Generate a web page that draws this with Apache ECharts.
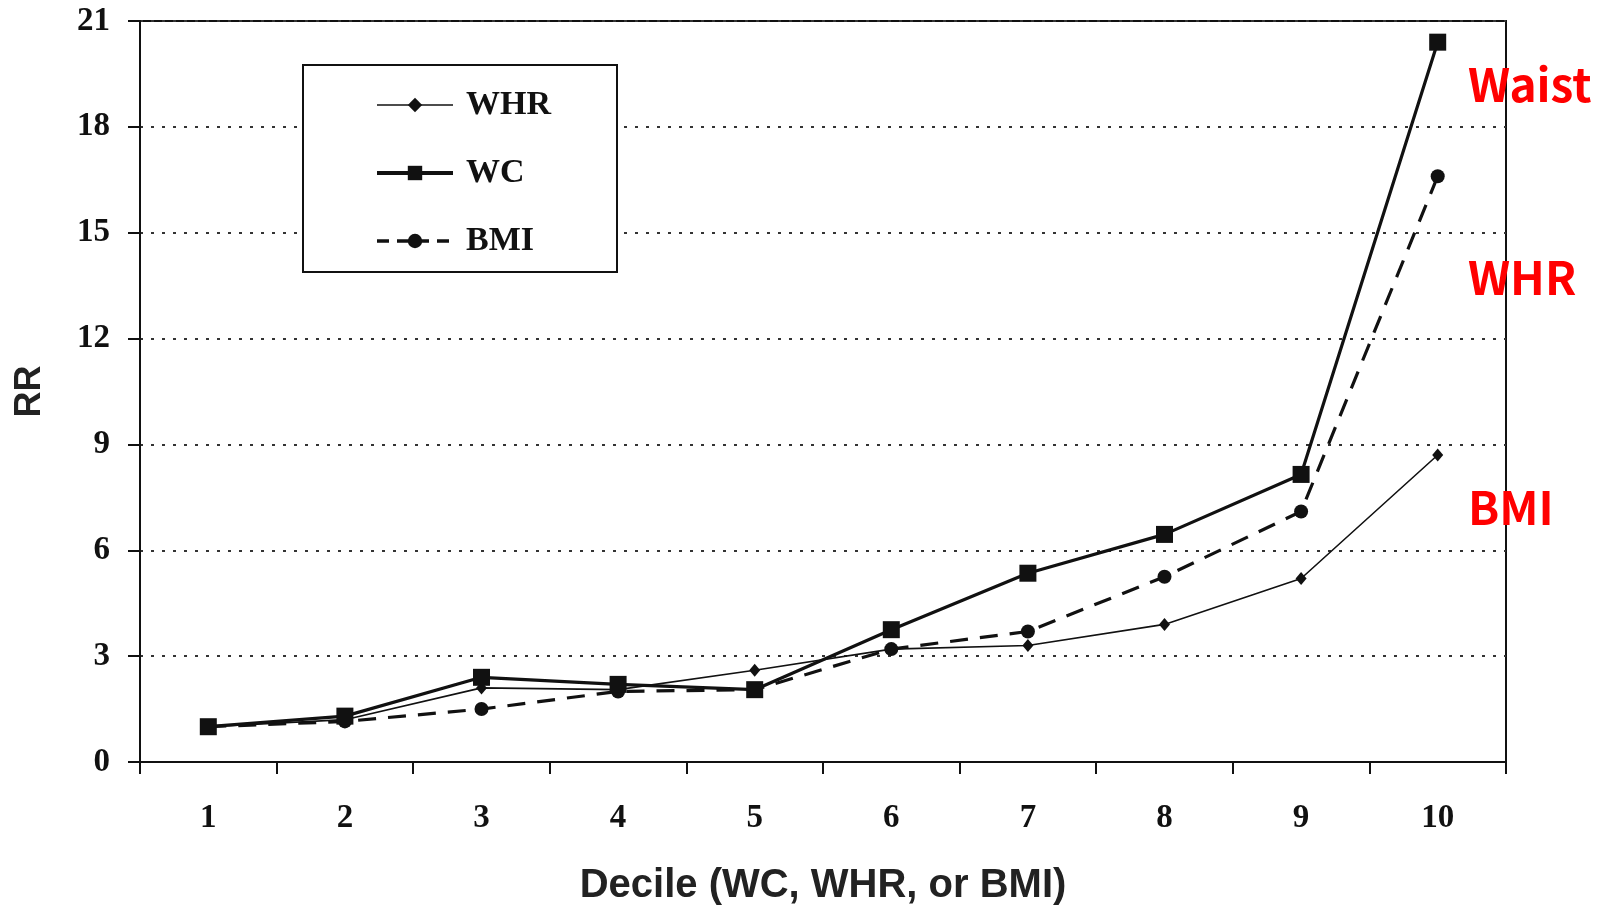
<!DOCTYPE html>
<html>
<head>
<meta charset="utf-8">
<title>RR by decile of WC, WHR and BMI</title>
<script src="https://cdn.jsdelivr.net/npm/echarts@6/dist/echarts.min.js"></script>
<style>
  html, body { margin: 0; padding: 0; background: #fff; }
  #chart { width: 1603px; height: 909px; }
</style>
</head>
<body>
<div id="chart"></div>
<script>
// Deciles on the x axis
const deciles = ['1', '2', '3', '4', '5', '6', '7', '8', '9', '10'];

// Relative risk per decile for each anthropometric measure
const whrValues = [1.0, 1.2, 2.1, 2.05, 2.6, 3.2, 3.3, 3.9, 5.2, 8.7];
const wcValues  = [1.0, 1.3, 2.4, 2.2, 2.05, 3.75, 5.35, 6.45, 8.15, 20.4];
const bmiValues = [1.0, 1.15, 1.5, 2.0, 2.05, 3.2, 3.7, 5.25, 7.1, 16.6];

// Y axis range and step
const yMin = 0;
const yMax = 21;
const yStep = 3;

// Side notes in red
const sideNotes = ['Waist', 'WHR', 'BMI'];

const serif = '"Liberation Serif", "Times New Roman", serif';
const sans = '"Liberation Sans", Arial, sans-serif';
const ink = '#111';

const chart = echarts.init(document.getElementById('chart'), null, { renderer: 'canvas' });

const option = {
  backgroundColor: '#fff',
  animation: false,
  grid: {
    left: 140, right: 97, top: 21, bottom: 147,
    containLabel: false,
    outerBoundsMode: 'none',
    show: true, borderColor: ink, borderWidth: 2, backgroundColor: 'transparent'
  },
  legend: {
    orient: 'vertical',
    left: 303, top: 65,
    data: [
      { name: 'WHR', lineStyle: { width: 1.5 } },
      { name: 'WC', lineStyle: { width: 4 } },
      { name: 'BMI', lineStyle: { width: 3.5, type: [12, 8] } }
    ],
    backgroundColor: '#fff',
    borderColor: ink, borderWidth: 2, borderRadius: 0,
    padding: [23, 66, 14, 72],
    itemWidth: 76, itemHeight: 18, itemGap: 34,
    selectedMode: false,
    textStyle: { fontFamily: serif, fontWeight: 'bold', fontSize: 34, color: ink, padding: [0, 0, 0, 8] }
  },
  xAxis: {
    type: 'category',
    data: deciles,
    boundaryGap: true,
    name: 'Decile (WC, WHR, or BMI)',
    nameLocation: 'middle',
    nameGap: 104,
    nameTextStyle: { fontFamily: sans, fontWeight: 'bold', fontSize: 40, color: '#222' },
    axisLine: { lineStyle: { color: ink, width: 2 } },
    axisTick: { show: true, length: 12, inside: false, lineStyle: { color: ink, width: 2 } },
    axisLabel: { margin: 40, fontFamily: serif, fontWeight: 'bold', fontSize: 33, color: ink },
    splitLine: { show: false }
  },
  yAxis: {
    type: 'value',
    min: yMin, max: yMax, interval: yStep,
    name: 'RR',
    nameLocation: 'middle',
    nameRotate: 90,
    nameGap: 92,
    nameTextStyle: { fontFamily: sans, fontWeight: 'bold', fontSize: 36, color: '#222' },
    axisLine: { show: true, lineStyle: { color: ink, width: 2 } },
    axisTick: { show: true, length: 12, lineStyle: { color: ink, width: 2 } },
    axisLabel: { margin: 30, fontFamily: serif, fontWeight: 'bold', fontSize: 33, color: ink },
    splitLine: { show: true, lineStyle: { color: '#333', width: 2, type: [3, 8] } }
  },
  series: [
    {
      name: 'WHR', type: 'line', data: whrValues, z: 3,
      symbol: 'diamond', symbolSize: [11, 13],
      lineStyle: { color: ink, width: 1.6 },
      itemStyle: { color: ink }
    },
    {
      name: 'WC', type: 'line', data: wcValues, z: 5,
      symbol: 'rect', symbolSize: 17,
      lineStyle: { color: ink, width: 3.2 },
      itemStyle: { color: ink }
    },
    {
      name: 'BMI', type: 'line', data: bmiValues, z: 4,
      symbol: 'circle', symbolSize: 14,
      lineStyle: { color: ink, width: 3.2, type: [18, 12] },
      itemStyle: { color: ink }
    }
  ],
  graphic: sideNotes.map((t, i) => ({
    type: 'text',
    left: 1468,
    top: [62, 255, 485][i],
    style: {
      text: t,
      fill: '#ff0000',
      font: 'bold 46px "Noto Sans CJK KR", "Noto Sans", sans-serif'
    }
  }))
};

chart.setOption(option);
</script>
</body>
</html>
